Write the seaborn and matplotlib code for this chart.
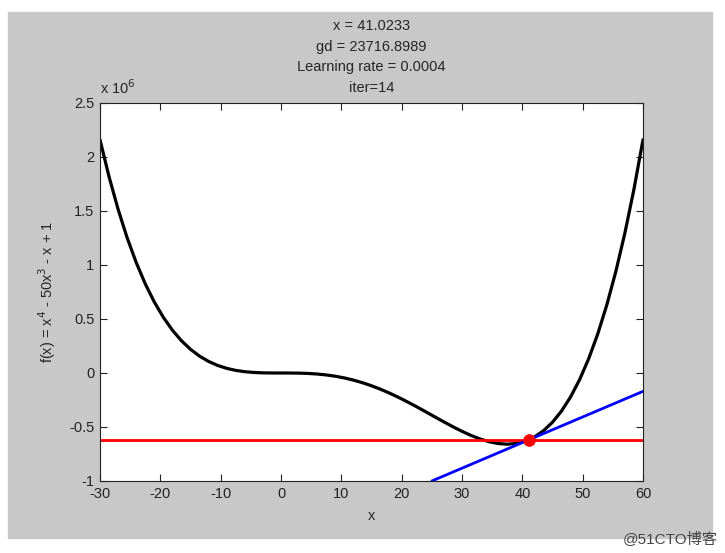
import numpy as np
import pandas as pd
import matplotlib
matplotlib.use("Agg")
import matplotlib.pyplot as plt
import seaborn as sns

sns.set_style("ticks")
plt.rcParams['font.family'] = ['Liberation Sans', 'Noto Sans CJK SC', 'DejaVu Sans']
plt.rcParams['axes.unicode_minus'] = False

### Data (y in units of 1e6)
curve_x = [-30, -28.5, -27, -25.5, -24, -22.5, -21, -19.5, -18, -16.5, -15, -13.5,
           -12, -10.5, -9, -7.5, -6, -4.5, -3, -1.5, 0, 1.5, 3, 4.5, 6, 7.5, 9,
           10.5, 12, 13.5, 15, 16.5, 18, 19.5, 21, 22.5, 24, 25.5, 27, 28.5, 30,
           31.5, 33, 34.5, 36, 37.5, 39, 40.5, 42, 43.5, 45, 46.5, 48, 49.5, 51,
           52.5, 54, 55.5, 57, 58.5, 60]
curve_y = [2.16, 1.8172, 1.5156, 1.2519, 1.0230, 0.8258, 0.6575, 0.5153, 0.3966,
           0.2987, 0.2194, 0.1562, 0.1071, 0.0700, 0.0430, 0.0243, 0.0121, 0.0050,
           0.0014, 0.0002, 0.0, -0.0002, -0.0013, -0.0041, -0.0095, -0.0179,
           -0.0299, -0.0457, -0.0657, -0.0898, -0.1181, -0.1505, -0.1866, -0.2262,
           -0.2686, -0.3132, -0.3594, -0.4062, -0.4527, -0.4977, -0.54, -0.5782,
           -0.6109, -0.6365, -0.6532, -0.6592, -0.6525, -0.6311, -0.5927, -0.5350,
           -0.4556, -0.3519, -0.2212, -0.0606, 0.1327, 0.3618, 0.6299, 0.9402,
           1.2964, 1.7017, 2.16]
point_x = [41.0233]
point_y = [-0.6198]
tangent_x = [25.0, 60.0]
tangent_y = [-1.0, -0.170]
title_lines = ["x = 41.0233", "gd = 23716.8989", "Learning rate = 0.0004", "iter=14"]
xticks = [-30, -20, -10, 0, 10, 20, 30, 40, 50, 60]
xtick_labels = ["-30", "-20", "-10", "0", "10", "20", "30", "40", "50", "60"]
yticks = [-1, -0.5, 0, 0.5, 1, 1.5, 2, 2.5]
ytick_labels = ["-1", "-0.5", "0", "0.5", "1", "1.5", "2", "2.5"]

df = pd.DataFrame({"x": curve_x, "y": curve_y})

fig = plt.figure(figsize=(7.25, 5.53), dpi=100, facecolor="white")
# grey MATLAB figure background
fig.patches.append(plt.Rectangle((8 / 725, 1 - 538 / 553), 704 / 725, 526 / 553,
                                 transform=fig.transFigure, color="#c8c8c8", zorder=-10))
ax = fig.add_axes([100 / 725, 1 - 481 / 553, 543 / 725, 378 / 553])
ax.set_zorder(1)
ax.set_facecolor("white")

sns.lineplot(data=df, x="x", y="y", color="black", linewidth=2.3, ax=ax)
ax.axhline(point_y[0], color="#ff0000", linewidth=2)
sns.lineplot(x=tangent_x, y=tangent_y, color="#0000ff", linewidth=2, ax=ax)
sns.scatterplot(x=point_x, y=point_y, color="#ff0000", s=70, edgecolor="#ff0000", zorder=5, ax=ax)

ax.set_xlim(-30, 60)
ax.set_ylim(-1, 2.5)
ax.set_xticks(xticks)
ax.set_xticklabels(xtick_labels)
ax.set_yticks(yticks)
ax.set_yticklabels(ytick_labels)
ax.tick_params(direction="in", length=5, width=0.8, top=True, right=True,
               labelsize=10.5, colors="#222222", pad=4)
for s in ax.spines.values():
    s.set_color("#222222")
    s.set_linewidth(0.8)

ax.set_xlabel("x", fontsize=10.5, labelpad=6)
ax.set_ylabel(r"f(x) = x$^4$ - 50x$^3$ - x + 1", fontsize=10.5, labelpad=8)
ax.set_title("\n".join(title_lines), fontsize=10.5, linespacing=1.6, pad=8)
ax.text(0.0, 1.015, r"x 10$^6$", transform=ax.transAxes, fontsize=10.5, ha="left", va="bottom")

fig.text(718 / 725, 1 - 539 / 553, "@51CTO博客", fontsize=11, color="#444444",
         ha="right", va="center")

fig.savefig("out.png", dpi=100, facecolor="white")
